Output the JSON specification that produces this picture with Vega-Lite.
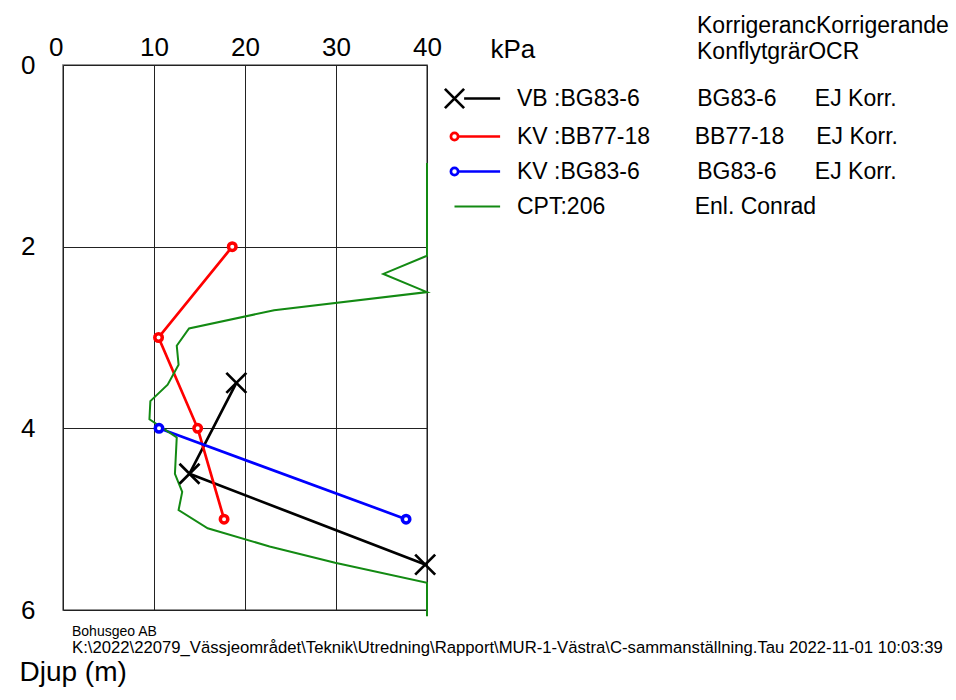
{
  "$schema": "https://vega.github.io/schema/vega-lite/v6.json",
  "autosize": {"type": "none"},
  "width": 364,
  "height": 545,
  "padding": {"left": 63, "top": 65, "right": 529, "bottom": 90},
  "background": "white",
  "config": {
    "font": "Liberation Sans",
    "view": {"stroke": "#707070", "strokeWidth": 1.6},
    "axis": {"labelColor": "black", "titleColor": "black"}
  },
  "title": {
    "text": "Bohusgeo AB",
    "subtitle": "K:\\2022\\22079_Vässjeområdet\\Teknik\\Utredning\\Rapport\\MUR-1-Västra\\C-sammanställning.Tau 2022-11-01 10:03:39",
    "orient": "bottom",
    "anchor": "start",
    "frame": "group",
    "fontSize": 14,
    "fontWeight": "normal",
    "color": "black",
    "subtitleFontSize": 16.7,
    "subtitleColor": "black",
    "subtitlePadding": 1,
    "offset": -61,
    "dx": 9
  },
  "data": {
    "values": [
      {"series": "VB :BG83-6", "kpa": 19.05, "depth": 3.5},
      {"series": "VB :BG83-6", "kpa": 13.9, "depth": 4.5},
      {"series": "VB :BG83-6", "kpa": 39.8, "depth": 5.5},
      {"series": "KV :BB77-18", "kpa": 18.6, "depth": 2.0},
      {"series": "KV :BB77-18", "kpa": 10.5, "depth": 3.0},
      {"series": "KV :BB77-18", "kpa": 14.8, "depth": 4.0},
      {"series": "KV :BB77-18", "kpa": 17.7, "depth": 5.0},
      {"series": "KV :BG83-6", "kpa": 10.55, "depth": 4.0},
      {"series": "KV :BG83-6", "kpa": 37.7, "depth": 5.0},
      {"series": "CPT:206", "kpa": 40, "depth": 1.08},
      {"series": "CPT:206", "kpa": 40, "depth": 2.1},
      {"series": "CPT:206", "kpa": 35.2, "depth": 2.3},
      {"series": "CPT:206", "kpa": 40, "depth": 2.5},
      {"series": "CPT:206", "kpa": 23.2, "depth": 2.7},
      {"series": "CPT:206", "kpa": 13.85, "depth": 2.9},
      {"series": "CPT:206", "kpa": 12.5, "depth": 3.09},
      {"series": "CPT:206", "kpa": 12.7, "depth": 3.3},
      {"series": "CPT:206", "kpa": 11.5, "depth": 3.52},
      {"series": "CPT:206", "kpa": 9.6, "depth": 3.7},
      {"series": "CPT:206", "kpa": 9.5, "depth": 3.9},
      {"series": "CPT:206", "kpa": 12.5, "depth": 4.1},
      {"series": "CPT:206", "kpa": 12.3, "depth": 4.5},
      {"series": "CPT:206", "kpa": 13.1, "depth": 4.7},
      {"series": "CPT:206", "kpa": 12.7, "depth": 4.9},
      {"series": "CPT:206", "kpa": 15.9, "depth": 5.1},
      {"series": "CPT:206", "kpa": 22.7, "depth": 5.3},
      {"series": "CPT:206", "kpa": 29.9, "depth": 5.48},
      {"series": "CPT:206", "kpa": 40, "depth": 5.7},
      {"series": "CPT:206", "kpa": 40, "depth": 6.07}
    ]
  },
  "encoding": {
    "x": {
      "field": "kpa",
      "type": "quantitative",
      "scale": {"domain": [0, 40], "nice": false, "zero": false},
      "axis": {
        "orient": "top",
        "values": [0, 10, 20, 30, 40],
        "title": "kPa",
        "titleFontSize": 26,
        "titleFontWeight": "normal",
        "titleAlign": "left",
        "titleBaseline": "alphabetic",
        "titleAnchor": "start",
        "titleAngle": 0,
        "titleX": 427,
        "titleY": -8,
        "labelFontSize": 26,
        "labelPadding": 5,
        "labelFlush": false,
        "labelAlign": {"condition": {"test": "datum.value === 0", "value": "right"}, "value": "center"},
        "ticks": false,
        "domain": false,
        "grid": true,
        "gridColor": "#222222",
        "gridWidth": 1,
        "gridOpacity": 1
      }
    },
    "y": {
      "field": "depth",
      "type": "quantitative",
      "scale": {"domain": [0, 6], "reverse": true, "nice": false, "zero": false},
      "axis": {
        "orient": "left",
        "values": [0, 2, 4, 6],
        "title": "Djup (m)",
        "titleFontSize": 28,
        "titleFontWeight": "normal",
        "titleAngle": 0,
        "titleAlign": "left",
        "titleBaseline": "alphabetic",
        "titleAnchor": "start",
        "titleX": -44,
        "titleY": 615,
        "labelFontSize": 26,
        "labelPadding": 28,
        "labelBaseline": "middle",
        "labelFlush": false,
        "ticks": false,
        "domain": false,
        "grid": true,
        "gridColor": "#222222",
        "gridWidth": 1,
        "gridOpacity": 1
      }
    }
  },
  "layer": [
    {
      "mark": {"type": "line", "clip": false},
      "encoding": {
        "order": {"field": "depth", "type": "quantitative"},
        "color": {
          "field": "series",
          "type": "nominal",
          "scale": {
            "domain": ["VB :BG83-6", "KV :BB77-18", "KV :BG83-6", "CPT:206"],
            "range": ["#000000", "#ff0000", "#0000ff", "#138a13"]
          },
          "legend": {
            "orient": "none",
            "legendX": 380,
            "legendY": -50,
            "title": ["KorrigerancKorrigerande", "KonflytgrärOCR"],
            "titleFontSize": 23,
            "titleFontWeight": "normal",
            "titleColor": "black",
            "titleLineHeight": 26,
            "titlePadding": 23,
            "titleLimit": 0,
            "labelFontSize": 23,
            "labelColor": "black",
            "labelLimit": 0,
            "labelOffset": 51,
            "rowPadding": 11,
            "symbolSize": 256,
            "symbolStrokeWidth": 2.5,
            "labelExpr": "datum.value === 'VB :BG83-6' ? 'VB :BG83-6' + pad('', 9, '\u00a0') + 'BG83-6' + pad('', 6, '\u00a0') + 'EJ Korr.' : datum.value === 'KV :BB77-18' ? 'KV :BB77-18' + pad('', 7, '\u00a0') + 'BB77-18' + pad('', 5, '\u00a0') + 'EJ Korr.' : datum.value === 'KV :BG83-6' ? 'KV :BG83-6' + pad('', 9, '\u00a0') + 'BG83-6' + pad('', 6, '\u00a0') + 'EJ Korr.' : 'CPT:206' + pad('', 14, '\u00a0') + 'Enl. Conrad'",
            "encode": {
              "title": {
                "update": {
                  "dx": {"value": 254}
                }
              },
              "symbols": {
                "update": {
                  "shape": {"signal": "datum.value === 'VB :BG83-6' ? 'M-1.2,-1.2L1.2,1.2M-1.2,1.2L1.2,-1.2M1.2,0L5.7,0' : datum.value === 'CPT:206' ? 'M0,0L5.7,0' : 'M-0.45,0A0.45,0.45 0 1,1 0.45,0A0.45,0.45 0 1,1 -0.45,0ZM0.45,0L5.7,0'"},
                  "fill": {"value": "white"},
                  "strokeWidth": {"signal": "datum.value === 'CPT:206' ? 2.2 : 2.7"}
                }
              }
            }
          }
        },
        "strokeWidth": {
          "field": "series",
          "type": "nominal",
          "scale": {
            "type": "ordinal",
            "domain": ["VB :BG83-6", "KV :BB77-18", "KV :BG83-6", "CPT:206"],
            "range": [2.7, 2.7, 2.7, 2]
          },
          "legend": null
        }
      }
    },
    {
      "transform": [{"filter": "datum.series !== 'CPT:206'"}],
      "mark": {"type": "point", "filled": false, "fill": "white", "opacity": 1, "clip": false},
      "encoding": {
        "shape": {
          "field": "series",
          "type": "nominal",
          "scale": {
            "domain": ["VB :BG83-6", "KV :BB77-18", "KV :BG83-6"],
            "range": ["M-1,-1L1,1M-1,1L1,-1", "circle", "circle"]
          },
          "legend": null
        },
        "size": {
          "field": "series",
          "type": "nominal",
          "scale": {
            "type": "ordinal",
            "domain": ["VB :BG83-6", "KV :BB77-18", "KV :BG83-6"],
            "range": [400, 56, 56]
          },
          "legend": null
        },
        "stroke": {
          "field": "series",
          "type": "nominal",
          "scale": {
            "domain": ["VB :BG83-6", "KV :BB77-18", "KV :BG83-6"],
            "range": ["#000000", "#ff0000", "#0000ff"]
          },
          "legend": null
        },
        "strokeWidth": {
          "field": "series",
          "type": "nominal",
          "scale": {
            "type": "ordinal",
            "domain": ["VB :BG83-6", "KV :BB77-18", "KV :BG83-6"],
            "range": [2.7, 3.5, 3.5]
          },
          "legend": null
        }
      }
    }
  ],
  "resolve": {"scale": {"strokeWidth": "independent"}}
}
